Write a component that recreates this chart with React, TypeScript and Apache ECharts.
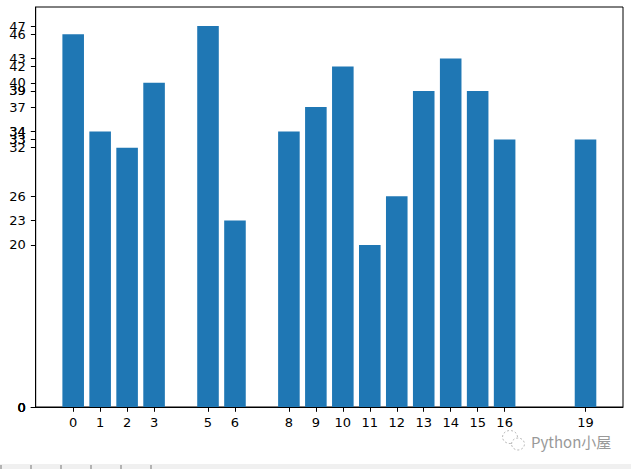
import React, { useEffect, useRef } from "react";
import * as echarts from "echarts";

const positions = [0, 1, 2, 3, 4, 5, 6, 7, 8, 9, 10, 11, 12, 13, 14, 15, 16, 17, 18, 19];
const values = [46, 34, 32, 40, 0, 47, 23, 0, 34, 37, 42, 20, 26, 39, 43, 39, 33, 0, 0, 33];
const xTickValues = [0, 1, 2, 3, 5, 6, 8, 9, 10, 11, 12, 13, 14, 15, 16, 19];
// tick labels in the order they were set (same as the bar values)
const yTickValues = [46, 34, 32, 40, 0, 47, 23, 0, 34, 37, 42, 20, 26, 39, 43, 39, 33, 0, 0, 33];
const watermark = "Python小屋";

export default function App() {
  const ref = useRef<HTMLDivElement>(null);
  useEffect(() => {
    if (!ref.current) return;
    const chart = echarts.init(ref.current, null, { renderer: "svg" });
    const W = 631;
    const gridLeft = 35.7;
    const gridRight = 8;
    const xMin = -1.39;
    const xMax = 20.39;
    const pxPerUnit = (W - gridLeft - gridRight) / (xMax - xMin);
    const font = "DejaVu Sans";
    chart.setOption({
      animation: false,
      grid: {
        left: gridLeft,
        right: gridRight,
        top: 7,
        bottom: 62,
        show: true,
        borderColor: "#000",
        borderWidth: 1,
        backgroundColor: "transparent",
      },
      xAxis: {
        type: "value",
        min: xMin,
        max: xMax,
        splitLine: { show: false },
        axisLine: { show: true, onZero: false, lineStyle: { color: "#000", width: 1 } },
        axisTick: {
          show: true,
          length: 4.8,
          lineStyle: { color: "#000", width: 1 },
          customValues: xTickValues,
        },
        axisLabel: {
          show: true,
          color: "#000",
          fontFamily: font,
          fontSize: 13,
          margin: 9,
          showMinLabel: true,
          showMaxLabel: true,
          customValues: xTickValues,
          formatter: (v: number) => String(v),
        },
      },
      yAxis: {
        type: "value",
        min: 0,
        max: 47 * 1.05,
        splitLine: { show: false },
        axisLine: { show: true, onZero: false, lineStyle: { color: "#000", width: 1 } },
        axisTick: {
          show: true,
          length: 4.8,
          lineStyle: { color: "#000", width: 1 },
          customValues: yTickValues,
        },
        axisLabel: {
          show: true,
          color: "#000",
          fontFamily: font,
          fontSize: 13,
          margin: 10,
          showMinLabel: true,
          showMaxLabel: true,
          hideOverlap: false,
          customValues: yTickValues,
          formatter: (v: number) => String(v),
        },
      },
      series: [
        {
          type: "bar",
          data: positions.map((p, i) => [p, values[i]]),
          barWidth: 0.8 * pxPerUnit,
          itemStyle: { color: "#1f77b4" },
        },
      ],
      graphic: [
        {
          type: "rect",
          shape: { x: 0, y: 464, width: W, height: 5 },
          style: { fill: "#f0f0f0" },
          silent: true,
        },
        ...[1, 31, 61, 91, 121, 151].map((x) => ({
          type: "line",
          shape: { x1: x, y1: 465, x2: x, y2: 469 },
          style: { stroke: "#777", lineWidth: 1 },
          silent: true,
        })),
        {
          type: "ellipse",
          shape: { cx: 510, cy: 437, rx: 7.5, ry: 6.5 },
          style: { fill: "none", stroke: "#bbb", lineWidth: 1, lineDash: [2, 2] },
          silent: true,
        },
        {
          type: "ellipse",
          shape: { cx: 518, cy: 444, rx: 6.5, ry: 6 },
          style: { fill: "#fff", stroke: "#bbb", lineWidth: 1, lineDash: [2, 2] },
          silent: true,
        },
        {
          type: "text",
          x: 531,
          y: 441,
          style: {
            text: watermark,
            fill: "#999",
            font: "15px 'Noto Sans CJK SC', sans-serif",
            verticalAlign: "middle",
          },
          silent: true,
        },
      ],
    });
    return () => chart.dispose();
  }, []);
  return (
    <div
      ref={ref}
      style={{ position: "absolute", left: 0, top: 0, width: 631, height: 469, background: "#fff" }}
    />
  );
}
